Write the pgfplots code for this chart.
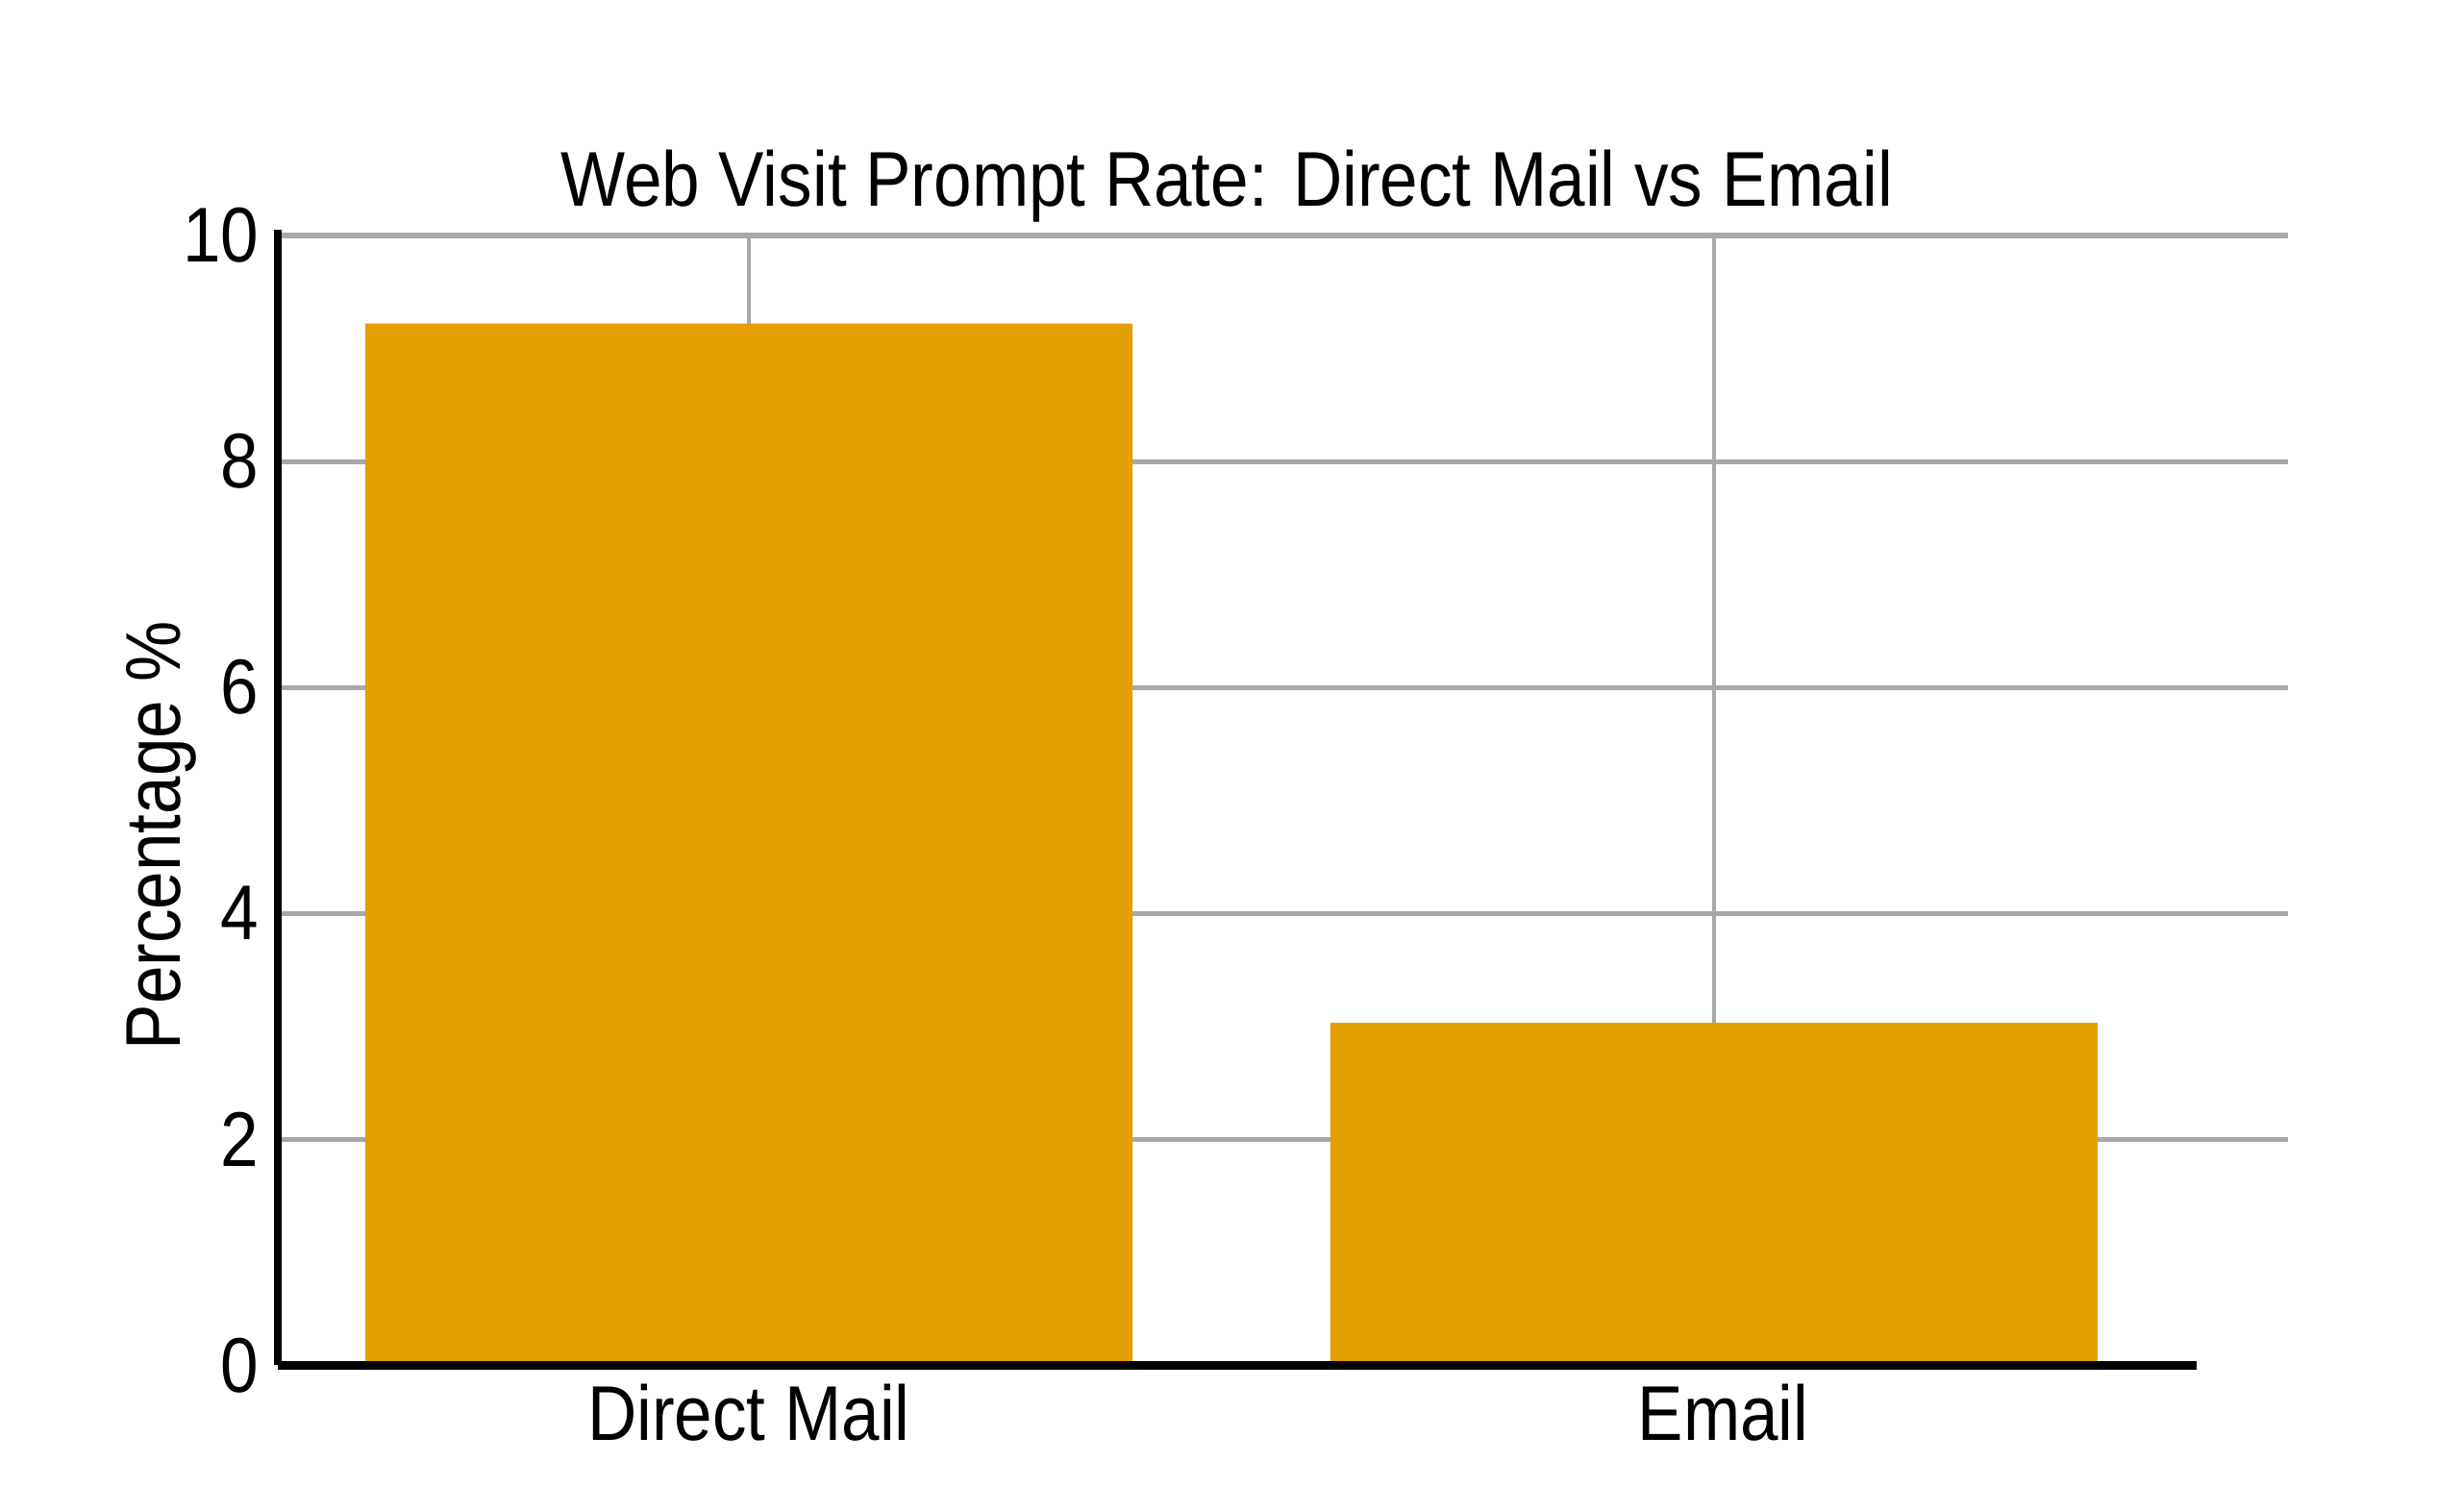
\documentclass[border=0pt]{standalone}
\usepackage{fontspec}
\setmainfont{Liberation Sans}[FakeStretch=0.88]
\usepackage{pgfplots}
\pgfplotsset{compat=1.18}
\definecolor{barc}{HTML}{E69F00}
\definecolor{gridc}{HTML}{A8A8A8}
\begin{document}
\begin{tikzpicture}
\path[use as bounding box] (-51.19pt,-26.9pt) rectangle (402.3pt,251.6pt);
\begin{axis}[
  at={(0,0)}, anchor=south west,
  scale only axis, width=370.5pt, height=208.2pt,
  xmin=-0.488, xmax=1.595, ymin=0, ymax=10,
  ytick={2,4,6,8,10},
  extra y ticks={0}, extra y tick style={grid=none},
  xtick={0,1}, xticklabels={Direct Mail\hspace{2.8pt}, \hspace{3.4pt}Email},
  axis line style={draw=none},
  tick style={draw=none},
  ymajorgrids, xmajorgrids,
  every axis y grid/.append style={gridc, line width=0.9pt},
  every axis x grid/.append style={gridc, line width=0.6pt},
  ticklabel style={font=\fontsize{14.3}{16}\selectfont},
  /pgf/number format/assume math mode=true,
  ylabel={Percentage \%},
  ylabel style={font=\fontsize{14.3}{16}\selectfont, at={(axis description cs:-0.0578,0.469)}, anchor=center},
  title={Web Visit Prompt Rate: Direct Mail vs Email},
  title style={font=\fontsize{14.3}{16}\selectfont, at={(axis description cs:0.472,1)}, anchor=base, yshift=-0.6pt},
  clip=false,
]
\addplot[ybar, fill=barc, draw=none, bar width=0.795] coordinates {(0,9.22) (1,3.03)};
\draw[black, line width=1.5pt] (axis cs:-0.488,0) -- (axis cs:1.5,0);
\draw[black, line width=1.5pt] (axis cs:-0.488,0) -- (axis cs:-0.488,10.05);
\end{axis}
\end{tikzpicture}
\end{document}
